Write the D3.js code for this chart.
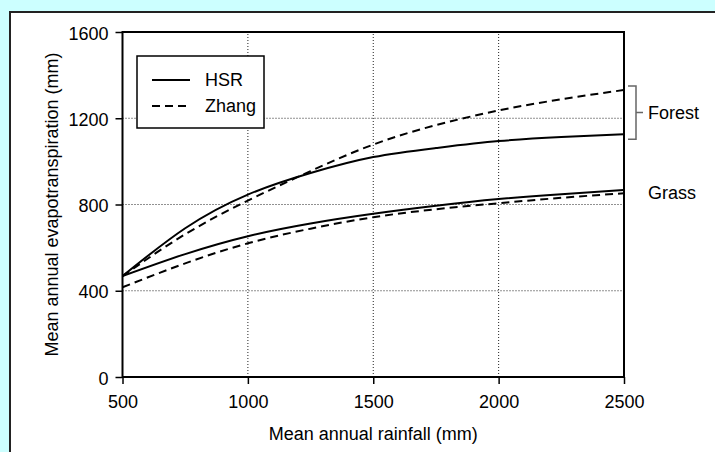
<!DOCTYPE html>
<html>
<head>
<meta charset="utf-8">
<script src="https://cdn.jsdelivr.net/npm/d3@7"></script>
<style>
  html, body { margin: 0; padding: 0; background: #ccffff; }
  svg { display: block; }
  text { font-family: Arial, "Liberation Sans", Helvetica, sans-serif; fill: #000; }
</style>
</head>
<body>
<svg id="chart" width="715" height="452"></svg>
<script>
// values
const rainfall = [500, 750, 1000, 1250, 1500, 1750, 2000, 2250, 2500];
const hsrForest = [468, 690, 846, 946, 1020, 1062, 1094, 1113, 1126];
const zhangForest = [468, 662, 818, 955, 1078, 1168, 1236, 1288, 1331];
const hsrGrass = [468, 570, 653, 712, 757, 794, 825, 848, 867];
const zhangGrass = [416, 527, 620, 688, 741, 778, 806, 831, 852];

const xTicks = [500, 1000, 1500, 2000, 2500];
const yTicks = [0, 400, 800, 1200, 1600];
const legendItems = ["HSR", "Zhang"];

const svg = d3.select("#chart");

// white panel with dark frame
svg.append("rect")
  .attr("x", 10).attr("y", 12)
  .attr("width", 730).attr("height", 460)
  .attr("fill", "#fff")
  .attr("stroke", "#222")
  .attr("stroke-width", 2);

const x = d3.scaleLinear().domain([500, 2500]).range([122.5, 624]);
const y = d3.scaleLinear().domain([0, 1600]).range([377, 32]);

// grid
const grid = svg.append("g")
  .attr("stroke", "#222")
  .attr("stroke-width", 1)
  .attr("stroke-dasharray", "1,2");
grid.selectAll("line.v")
  .data(xTicks.slice(1, -1))
  .enter().append("line")
  .attr("x1", (d) => x(d)).attr("x2", (d) => x(d))
  .attr("y1", y(0)).attr("y2", y(1600));
grid.selectAll("line.h")
  .data(yTicks.slice(1, -1))
  .enter().append("line")
  .attr("x1", x(500)).attr("x2", x(2500))
  .attr("y1", (d) => y(d)).attr("y2", (d) => y(d));

// axes
const xAxis = svg.append("g")
  .attr("transform", `translate(0,${y(0)})`)
  .call(d3.axisBottom(x).tickValues(xTicks).tickSize(7).tickPadding(11).tickFormat(d3.format("d")));
const yAxis = svg.append("g")
  .attr("transform", `translate(${x(500)},0)`)
  .call(d3.axisLeft(y).tickValues(yTicks).tickSize(7).tickPadding(7).tickFormat(d3.format("d")));

[xAxis, yAxis].forEach((a) => {
  a.select(".domain").remove();
  a.selectAll(".tick line").attr("stroke", "#000").attr("stroke-width", 1.5);
  a.selectAll(".tick text")
    .attr("font-size", 18)
    .style("font-family", "Arial, 'Liberation Sans', sans-serif");
});
yAxis.selectAll(".tick text").attr("dy", "0.4em");

// plot frame
svg.append("rect")
  .attr("x", x(500)).attr("y", y(1600))
  .attr("width", x(2500) - x(500))
  .attr("height", y(0) - y(1600))
  .attr("fill", "none")
  .attr("stroke", "#000")
  .attr("stroke-width", 2);

// curves
const line = d3.line()
  .x((d, i) => x(rainfall[i]))
  .y((d) => y(d))
  .curve(d3.curveNatural);

const series = [
  { values: hsrForest, dash: null },
  { values: zhangForest, dash: "8,5" },
  { values: hsrGrass, dash: null },
  { values: zhangGrass, dash: "8,5" },
];

svg.append("g").selectAll("path")
  .data(series)
  .enter().append("path")
  .attr("d", (d) => line(d.values))
  .attr("fill", "none")
  .attr("stroke", "#000")
  .attr("stroke-width", 2)
  .attr("stroke-dasharray", (d) => d.dash);

// legend
const legend = svg.append("g");
legend.append("rect")
  .attr("x", 137).attr("y", 56)
  .attr("width", 127).attr("height", 72)
  .attr("fill", "#fff")
  .attr("stroke", "#000")
  .attr("stroke-width", 1.5);
legend.selectAll("line")
  .data(legendItems)
  .enter().append("line")
  .attr("x1", 152).attr("x2", 190)
  .attr("y1", (d, i) => 80 + i * 26)
  .attr("y2", (d, i) => 80 + i * 26)
  .attr("stroke", "#000")
  .attr("stroke-width", 2)
  .attr("stroke-dasharray", (d, i) => (i ? "8,5" : null));
legend.selectAll("text")
  .data(legendItems)
  .enter().append("text")
  .attr("x", 205)
  .attr("y", (d, i) => 80 + i * 26)
  .attr("dy", "0.35em")
  .attr("font-size", 18)
  .text((d) => d);

// bracket for forest curves
const last = rainfall.length - 1;
const bTop = y(zhangForest[last]) - 4;
const bBot = y(hsrForest[last]) + 5;
const bMid = (bTop + bBot) / 2;
svg.append("path")
  .attr("d", `M628,${bTop}H636V${bBot}H628M636,${bMid}H643`)
  .attr("fill", "none")
  .attr("stroke", "#666")
  .attr("stroke-width", 1.5);

svg.append("text")
  .attr("x", 648).attr("y", bMid)
  .attr("dy", "0.35em")
  .attr("font-size", 18)
  .text("Forest");
svg.append("text")
  .attr("x", 648).attr("y", y(hsrGrass[last]) + 3)
  .attr("dy", "0.35em")
  .attr("font-size", 18)
  .text("Grass");

// axis titles
svg.append("text")
  .attr("x", (x(500) + x(2500)) / 2)
  .attr("y", 440)
  .attr("text-anchor", "middle")
  .attr("font-size", 18)
  .text("Mean annual rainfall (mm)");
svg.append("text")
  .attr("transform", `translate(58,${(y(0) + y(1600)) / 2}) rotate(-90)`)
  .attr("text-anchor", "middle")
  .attr("font-size", 18)
  .text("Mean annual evapotranspiration (mm)");
</script>
</body>
</html>
